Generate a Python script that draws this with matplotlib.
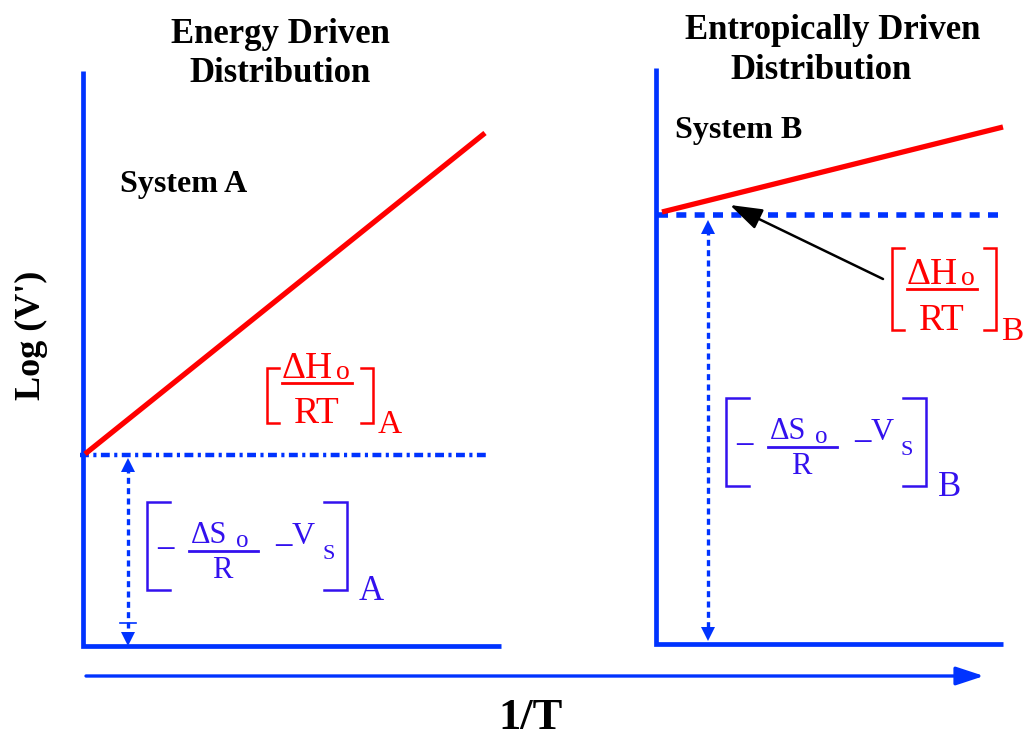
import matplotlib
matplotlib.use("Agg")
from matplotlib import pyplot

# diagram drawn in pixel space of the original picture (x right, y down)
axis_a_x = [83, 83, 501]
axis_a_y = [71, 646, 646]
axis_b_x = [656, 656, 1003]
axis_b_y = [68, 644, 644]

line_a_x = [85, 485]
line_a_y = [454, 133]
line_b_x = [662, 1003]
line_b_y = [212, 127]

base_a_x = [80, 487]
base_a_y = [455, 455]
base_b_x = [658, 998]
base_b_y = [215, 215]

gap_a_x = [128, 128]
gap_a_y = [467, 637]
gap_b_x = [708, 708]
gap_b_y = [229, 632]

titles = [("Energy Driven", 280, 43), ("Distribution", 280, 82),
          ("Entropically Driven", 833, 39), ("Distribution", 821, 79)]
systems = [("System A", 120, 192), ("System B", 675, 138)]

BLUE = "#0033ff"
TBLUE = "#3311ee"
RED = "#ff0000"
SERIF = ["Liberation Serif", "DejaVu Serif"]


def bracket(ax, x0, x1, ytop, ybot, color, tick=12, lw=1.8):
    ax.plot([x0 + tick, x0, x0, x0 + tick], [ytop, ytop, ybot, ybot], color=color, lw=lw, solid_joinstyle="miter")
    ax.plot([x1 - tick, x1, x1, x1 - tick], [ytop, ytop, ybot, ybot], color=color, lw=lw, solid_joinstyle="miter")


def txt(ax, x, y, s, size, color, ha="left", weight="normal"):
    ax.text(x, y, s, fontsize=size, color=color, ha=ha, va="baseline", family=SERIF, fontweight=weight)


def enthalpy(ax, x0, x1, ytop, ybot, frac_y, label):
    bracket(ax, x0, x1, ytop, ybot, RED, tick=12)
    txt(ax, x0 + 15, frac_y - 5, "\u0394H", 27, RED)
    txt(ax, x0 + 69, frac_y - 4, "o", 20, RED)
    ax.plot([x0 + 15, x0 + 85], [frac_y, frac_y], color=RED, lw=2)
    txt(ax, x0 + 50, ybot, "RT", 27, RED, ha="center")
    txt(ax, x1 + 5, ybot + 10, label, 24, RED)


def entropy(ax, x0, x1, ytop, ybot, frac_y, label):
    bracket(ax, x0, x1, ytop, ybot, TBLUE, tick=23)
    txt(ax, x0 + 18, frac_y + 9, "\u2212", 26, TBLUE, ha="center")
    txt(ax, x0 + 44, frac_y - 8, "\u0394S", 22, TBLUE)
    txt(ax, x0 + 89, frac_y - 4, "o", 18, TBLUE)
    ax.plot([x0 + 42, x0 + 111], [frac_y, frac_y], color=TBLUE, lw=2)
    txt(ax, x0 + 75, frac_y + 27, "R", 22, TBLUE, ha="center")
    txt(ax, x0 + 136, frac_y + 6, "\u2212", 26, TBLUE, ha="center")
    txt(ax, x0 + 145, frac_y - 7, "V", 23, TBLUE)
    txt(ax, x0 + 175, frac_y + 8, "S", 16, TBLUE)
    txt(ax, x1 + 12, ybot + 10, label, 25, TBLUE)


fig = pyplot.figure(figsize=(10.26, 7.37), dpi=100)
ax = fig.add_axes([0, 0, 1, 1])
ax.set_xlim(0, 1026)
ax.set_ylim(737, 0)
ax.axis("off")

for xs, ys in [(axis_a_x, axis_a_y), (axis_b_x, axis_b_y)]:
    ax.plot(xs, ys, color=BLUE, lw=3.4, solid_joinstyle="miter", solid_capstyle="butt")

ax.plot(base_a_x, base_a_y, color=BLUE, lw=3.2, linestyle=(0, (2, 1, 0.7, 1)))
ax.plot(base_b_x, base_b_y, color=BLUE, lw=4, linestyle=(0, (1.8, 1.5)))

ax.plot(line_a_x, line_a_y, color=RED, lw=3.8, solid_capstyle="butt")
ax.plot(line_b_x, line_b_y, color=RED, lw=3.8, solid_capstyle="butt")

for xs, ys in [(gap_a_x, gap_a_y), (gap_b_x, gap_b_y)]:
    ax.plot(xs, ys, color=BLUE, lw=2.4, linestyle=(0, (1.8, 1.3)))
    ax.plot(xs[0], ys[0] - 2, marker="^", color=BLUE, markersize=10, markeredgewidth=0)
    ax.plot(xs[1], ys[1] + 2, marker="v", color=BLUE, markersize=10, markeredgewidth=0)
ax.plot([120, 136], [623, 623], color=BLUE, lw=1.2)

# 1/T axis arrow
ax.annotate("", xy=(984, 676), xytext=(86, 676),
            arrowprops=dict(arrowstyle="-|>,head_length=0.85,head_width=0.28", color=BLUE, lw=2.4,
                            mutation_scale=20, shrinkA=0, shrinkB=0))
# pointer to slope of B
ax.annotate("", xy=(730, 205), xytext=(883, 279),
            arrowprops=dict(arrowstyle="-|>,head_length=0.9,head_width=0.3", color="black", lw=1.8,
                            mutation_scale=22, shrinkA=0, shrinkB=0))

enthalpy(ax, 267, 373, 368, 423, 383, "A")
enthalpy(ax, 892, 996, 248, 330, 289, "B")
entropy(ax, 147, 347, 502, 590, 551, "A")
entropy(ax, 726, 926, 398, 486, 447, "B")

for s, x, y in titles:
    txt(ax, x, y, s, 25, "black", ha="center", weight="bold")
for s, x, y in systems:
    txt(ax, x, y, s, 23, "black", weight="bold")

ax.text(31, 335, "Log (V')", fontsize=26, fontweight="bold", family=SERIF, rotation=90,
        ha="center", va="center")
txt(ax, 531, 729, "1/T", 32, "black", ha="center", weight="bold")

pyplot.savefig("out.png", dpi=100)
